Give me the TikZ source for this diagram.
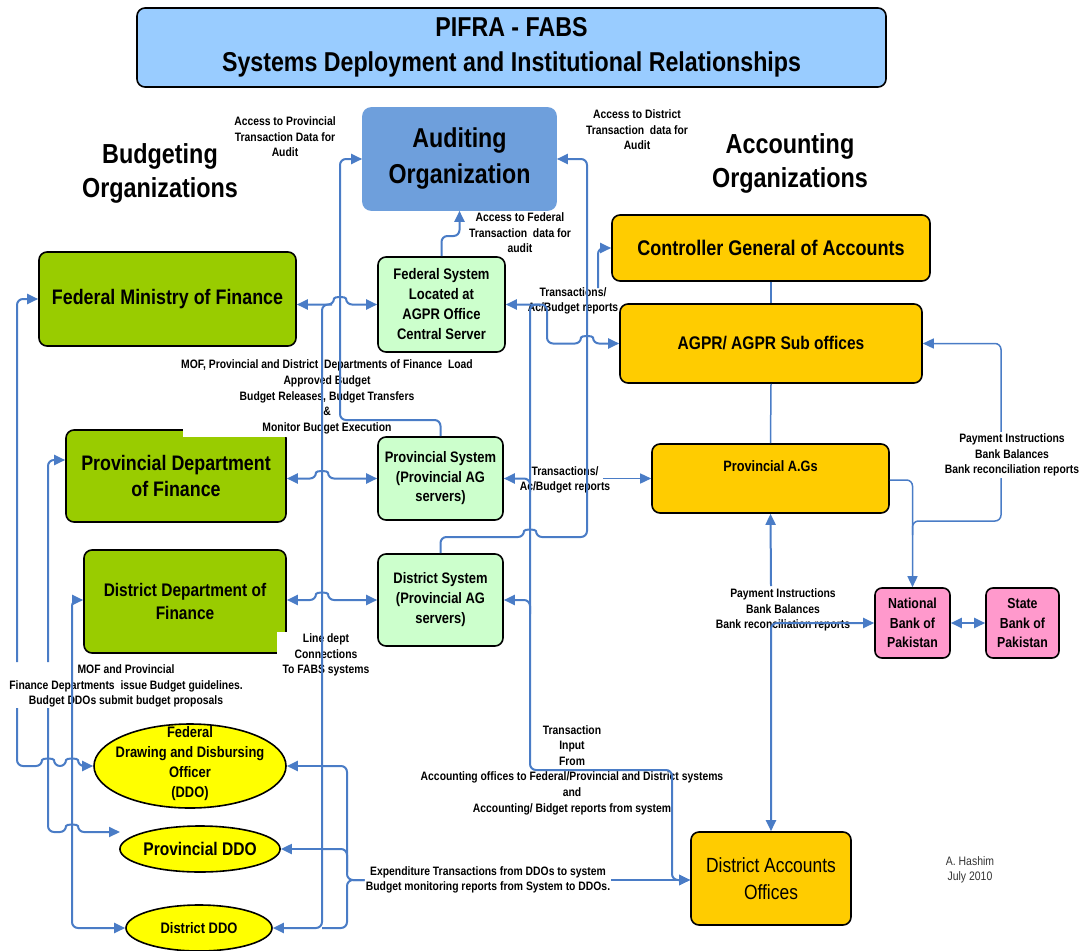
\documentclass[tikz,border=0pt]{standalone}
\usepackage{fontspec}
\setmainfont{Liberation Sans}[FakeStretch=0.85]
\usetikzlibrary{arrows.meta,shapes.geometric}

\definecolor{linkblue}{HTML}{4A7CC6}
\definecolor{titleblue}{HTML}{99CCFF}
\definecolor{auditblue}{HTML}{6E9FDC}
\definecolor{budgetgreen}{HTML}{99CC00}
\definecolor{systemgreen}{HTML}{CCFFCC}
\definecolor{accountgold}{HTML}{FFCC00}
\definecolor{bankpink}{HTML}{FF99CC}
\definecolor{ddoyellow}{HTML}{FFFF00}

\newcommand\fsz[2]{\fontsize{#1}{#2}\selectfont}
% small hop of a horizontal line over a vertical line at x=#1, y=#2
\newcommand\hoph[2]{-- (#1-6,#2) .. controls (#1-6,#2-8) and (#1+6,#2-8) .. (#1+6,#2)}

\begin{document}
\begin{tikzpicture}[x=1pt,y=-1pt,
  >={Triangle[length=11pt,width=10pt]},
  conn/.style={draw=linkblue, line width=2pt, rounded corners=6pt},
  thinconn/.style={conn, line width=1.5pt},
  box/.style={draw=black, line width=1.6pt, rounded corners=8pt, inner sep=0pt, align=center, font=\bfseries},
  budget/.style={box, fill=budgetgreen},
  system/.style={box, fill=systemgreen},
  account/.style={box, fill=accountgold},
  bank/.style={box, fill=bankpink, rounded corners=7pt},
  ddo/.style={ellipse, draw=black, line width=1.6pt, fill=ddoyellow, inner sep=0pt},
  note/.style={align=center, font=\bfseries\fsz{12.2}{15.6}, inner sep=1pt},
  heading/.style={align=center, font=\bfseries\fsz{27.5}{34}}]

\useasboundingbox (0,0) rectangle (1081,950);

% ---------- title ----------
\node[box, fill=titleblue, minimum width=749pt, minimum height=79pt, font=\bfseries\fsz{27.3}{35}]
  (title) at (511.5,47.5) {PIFRA - FABS\\Systems Deployment and Institutional Relationships};

% ---------- headings ----------
\node[heading] (budgethead) at (160,173) {Budgeting\\Organizations};
\node[heading] (accounthead) at (790,163) {Accounting\\Organizations};

% ---------- auditing ----------
\node[box, draw=auditblue, fill=auditblue, minimum width=193pt, minimum height=102pt,
  font=\bfseries\fsz{27.3}{36}] (audit) at (459.5,159) {Auditing\\Organization};

% ---------- budgeting organizations ----------
\node[budget, minimum width=257pt, minimum height=94pt, font=\bfseries\fsz{21}{24}]
  (fmof) at (167.5,299) {Federal Ministry of Finance};
\node[budget, minimum width=220pt, minimum height=92pt, font=\bfseries\fsz{21}{26}]
  (pdf) at (176,476) {Provincial Department\\of Finance};
\node[budget, minimum width=202pt, minimum height=103pt, font=\bfseries\fsz{18.2}{23}]
  (ddf) at (185,601.5) {District Department of\\Finance};
% white patches left by label backgrounds
\fill[white] (183,424) rectangle (292,437);
\fill[white] (277,632) rectangle (292,657);

% ---------- systems ----------
\node[system, minimum width=127pt, minimum height=95pt, font=\bfseries\fsz{15.3}{20}]
  (fedsys) at (441.5,304.5) {Federal System\\Located at\\AGPR Office\\Central Server};
\node[system, minimum width=125pt, minimum height=83pt, font=\bfseries\fsz{15.2}{19.5}]
  (provsys) at (440.5,478.5) {Provincial System\\(Provincial AG\\servers)};
\node[system, minimum width=125pt, minimum height=92pt, font=\bfseries\fsz{15.2}{20}]
  (distsys) at (440.5,600) {District System\\(Provincial AG\\servers)};

% ---------- accounting organizations ----------
\node[account, minimum width=318pt, minimum height=66pt, font=\bfseries\fsz{21.2}{24}]
  (cga) at (771,248) {Controller General of Accounts};
\node[account, minimum width=302pt, minimum height=79pt, font=\bfseries\fsz{18.3}{22}]
  (agpr) at (771,343.5) {AGPR/ AGPR Sub offices};
\node[account, minimum width=237pt, minimum height=69pt] (pag) at (770.5,478.5) {};
\node[font=\bfseries\fsz{15}{20}] (pagtext) at (770.5,466) {Provincial A.Gs};
\node[account, minimum width=160pt, minimum height=93pt, font=\fsz{20.5}{27}]
  (dao) at (771,878.5) {District Accounts\\Offices};

% ---------- banks ----------
\node[bank, minimum width=75pt, minimum height=70pt, font=\bfseries\fsz{14.5}{19.5}]
  (nbp) at (912.5,623) {National\\Bank of\\Pakistan};
\node[bank, minimum width=73pt, minimum height=70pt, font=\bfseries\fsz{14.5}{19.5}]
  (sbp) at (1022.5,623) {State\\Bank of\\Pakistan};

% ---------- drawing and disbursing officers ----------
\node[ddo, minimum width=192pt, minimum height=84pt] (fddo) at (190,766) {};
\node[align=center, font=\bfseries\fsz{15.2}{20}] (fddotext) at (190,764) {Federal\\Drawing and Disbursing\\Officer\\(DDO)};
\node[ddo, minimum width=158pt, minimum height=46pt, font=\bfseries\fsz{18.3}{20}] (pddo) at (200,849) {Provincial DDO};
\node[ddo, minimum width=146pt, minimum height=46pt, font=\bfseries\fsz{15.2}{18}] (dddo) at (199,928) {District DDO};

% ---------- labels ----------
\node[note] (lblprovaudit) at (285,137) {Access to Provincial\\Transaction Data for\\Audit};
\node[note] (lbldistaudit) at (637,130) {Access to District\\Transaction\ \ data for\\Audit};
\node[note] (lblfedaudit) at (520,233) {Access to Federal\\Transaction\ \ data for\\audit};
\node[note] (lblmof) at (327,397) {MOF, Provincial and District\ \ Departments of Finance\ \ Load\\Approved Budget\\Budget Releases, Budget Transfers\\\&\\Monitor Budget Execution};
\node[note] (lblline) at (326,655) {Line dept\\Connections\\To FABS systems};
\node[note] (lbltransfed) at (573,301) {Transactions/\\Ac/Budget reports};
\node[note] (lbltransprov) at (565,480) {Transactions/\\Ac/Budget reports};
\node[note] (lblinput) at (572,770) {Transaction\\Input\\From\\Accounting offices to Federal/Provincial and District systems\\and\\Accounting/ Bidget reports from system};
\node[note] (lblexp) at (488,880) {Expenditure Transactions from DDOs to system\\Budget monitoring reports from System to DDOs.};
\node[note] (lblpaymid) at (783,610) {Payment Instructions\\Bank Balances\\Bank reconciliation reports};
\node[note, align=center, font=\fsz{12.3}{15.5}, text=black!80] (author) at (970,870) {A. Hashim\\July 2010};

% ---------- far-left budget lines ----------
\draw[conn,->] (17,662) -- (17,299) -- (fmof.west);
\draw[conn,->] (48,662) -- (48,460) -- (pdf.west |- 0,460);
\node[note, fill=white, inner sep=2pt] (lblguide) at (126,686) {MOF and Provincial\\Finance Departments\ \ issue Budget guidelines.\\Budget DDOs submit budget proposals};
\coordinate (pddoin) at (120,832);
\draw[conn,->] (17,708) -- (17,766) \hoph{48}{766} \hoph{72}{766} -- (fddo.west);
\draw[conn,->] (48,708) -- (48,832) \hoph{72}{832} -- (pddoin);
\draw[conn,<->] (ddf.west |- 0,600) -- (72,600) -- (72,928) -- (dddo.west);

% ---------- budget departments to systems ----------
\draw[conn,<->] (fmof.east |- fedsys.west) \hoph{340}{304.5} -- (fedsys.west);
\draw[conn,<->] (pdf.east |- provsys.west) \hoph{322}{478.5} -- (provsys.west);
\draw[conn,<->] (ddf.east |- distsys.west) \hoph{322}{600} -- (distsys.west);

% ---------- line department bus to the DDOs ----------
\draw[conn,->] (332,304.5) -- (322,304.5) -- (322,928) -- (dddo.east);
\draw[conn,->] (322,766) -- (fddo.east);
\draw[conn,->] (322,849) -- (pddo.east);
\draw[conn] (322,766) -- (347,766) -- (347,880) -- (lblexp.west);
\draw[conn] (322,849) -- (347,849) -- (347,872);
\draw[conn] (322,928) -- (347,928) -- (347,880) -- (lblexp.west);
\draw[conn,->] (lblexp.east) -- (dao.west |- lblexp.east);

% ---------- systems to auditing ----------
\draw[conn,->] (provsys.north) -- (440.5,420) -- (340,420) -- (340,159) -- (audit.west);
\draw[conn,->] (fedsys.north) -- (441.5,236) -- (459.5,236) -- (audit.south);
\draw[conn,->] (distsys.north) -- (440.5,537) \hoph{530}{537} -- (587,537) -- (587,159) -- (audit.east);

% ---------- accounting offices to systems ----------
\draw[conn,<->] (fedsys.east) -- (547,304.5) -- (547,343.5) \hoph{587}{343.5} -- (agpr.west);
\draw[conn,->] (540,304.5) -- (530,304.5) -- (530,770) -- (672,770) -- (672,880) -- (dao.west |- lblexp.east);
\draw[conn,->] (530,492) -- (530,478.5) -- (provsys.east);
\draw[conn,->] (530,614) -- (530,600) -- (distsys.east);
\draw[conn,->] (598,288) -- (598,248) -- (cga.west);
\draw[thinconn,->] (603,478.5) -- (pag.west);

% ---------- accounting hierarchy and banks ----------
\draw[thinconn] (cga.south) -- (agpr.north);
\draw[thinconn] (agpr.south) -- (pag.north);
\draw[conn,->] (771,586) -- (pag.south);
\draw[conn,<->] (nbp.west) -- (771,623) -- (dao.north);
\draw[conn,<->] (nbp.east) -- (sbp.west);
\draw[thinconn,->] (pag.east |- 0,480) -- (912.5,480) -- (nbp.north);
\draw[thinconn,->] (912.5,535) -- (912.5,521) -- (1001,521) -- (1001,343.5) -- (agpr.east);
\node[note, fill=white, inner sep=2pt] (lblpayright) at (1012,455) {Payment Instructions\\Bank Balances\\Bank reconciliation reports};
\end{tikzpicture}
\end{document}
